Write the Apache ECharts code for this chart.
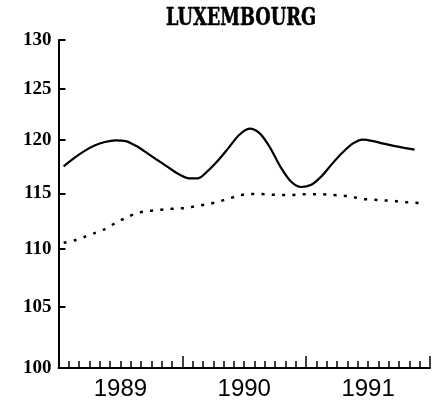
<!DOCTYPE html>
<html>
<head>
<meta charset="utf-8">
<script src="https://cdn.jsdelivr.net/npm/echarts@6/dist/echarts.min.js"></script>
<style>
html,body{margin:0;padding:0;background:#fff;}
#chart{width:435px;height:406px;}
</style>
</head>
<body>
<div id="chart"></div>
<script>
const titleText = 'LUXEMBOURG';
const years = ['1989', '1990', '1991'];
const months = [];
years.forEach(function (y) { for (let m = 1; m <= 12; m++) months.push(y + '-' + (m < 10 ? '0' + m : m)); });
const yTicks = [100, 105, 110, 115, 120, 125, 130];

// Solid line: Jan 1989 - Nov 1991 (monthly)
const solidSeries = [117.5, 118.27, 118.94, 119.47, 119.81, 119.97, 119.9, 119.45, 118.82, 118.15, 117.5, 116.86,
  116.41, 116.38, 117.1, 118.1, 119.28, 120.49, 121.1, 120.64, 119.28, 117.47, 116.11, 115.58,
  115.79, 116.59, 117.72, 118.78, 119.66, 120.05, 119.9, 119.66, 119.45, 119.26, 119.09];
// Dotted line: Jan 1989 - Dec 1991 (monthly)
const dottedSeries = [110.53, 110.74, 111.05, 111.39, 111.76, 112.29, 112.75, 113.15, 113.36, 113.45, 113.55, 113.61,
  113.67, 113.86, 114.01, 114.23, 114.51, 114.79, 114.94, 114.94, 114.88, 114.84, 114.84, 114.91,
  114.91, 114.91, 114.84, 114.79, 114.66, 114.47, 114.42, 114.35, 114.29, 114.19, 114.14, 114.05];

const chart = echarts.init(document.getElementById('chart'));
chart.setOption({
  backgroundColor: '#fff',
  animation: false,
  graphic: [{
    type: 'text',
    x: 241,
    y: 18,
    scaleX: 0.71,
    style: {
      text: titleText,
      fill: '#000',
      stroke: '#000',
      lineWidth: 0.6,
      font: 'bold 25px "DejaVu Serif", serif',
      textAlign: 'center',
      textVerticalAlign: 'middle'
    }
  }],
  grid: { left: 58.5, right: 5, top: 40, bottom: 38 },
  xAxis: [{
    type: 'category',
    data: months,
    position: 'bottom',
    boundaryGap: true,
    axisLine: { show: true, lineStyle: { color: '#000', width: 2 } },
    axisTick: { show: true, inside: true, length: 7, interval: 0, lineStyle: { color: '#000', width: 1.5 } },
    axisLabel: { show: false },
    splitLine: { show: false }
  }, {
    type: 'category',
    data: years,
    position: 'bottom',
    boundaryGap: true,
    axisLine: { show: false },
    axisTick: { show: true, inside: true, length: 12, interval: 0, lineStyle: { color: '#000', width: 1.5 } },
    axisLabel: { show: true, color: '#000', fontFamily: '"Liberation Sans", Arial, sans-serif', fontSize: 24, margin: 9 },
    splitLine: { show: false }
  }],
  yAxis: {
    type: 'log',
    logBase: 10,
    min: 100,
    max: 130,
    axisLine: { show: true, lineStyle: { color: '#000', width: 2 } },
    axisTick: { show: true, inside: true, length: 7, customValues: yTicks, lineStyle: { color: '#000', width: 2 } },
    axisLabel: { show: true, customValues: yTicks, color: '#000', fontWeight: 'bold', fontFamily: '"Liberation Serif", "Times New Roman", serif', fontSize: 19, margin: 7, padding: [5, 0, 0, 0] },
    splitLine: { show: false }
  },
  series: [{
    type: 'line',
    xAxisIndex: 0,
    data: solidSeries,
    smooth: 0.3,
    showSymbol: false,
    lineStyle: { color: '#000', width: 2.2 }
  }, {
    type: 'line',
    xAxisIndex: 0,
    data: dottedSeries,
    smooth: 0.3,
    showSymbol: false,
    lineStyle: { color: '#000', width: 2.5, type: [3, 7.3] }
  }]
});
</script>
</body>
</html>
